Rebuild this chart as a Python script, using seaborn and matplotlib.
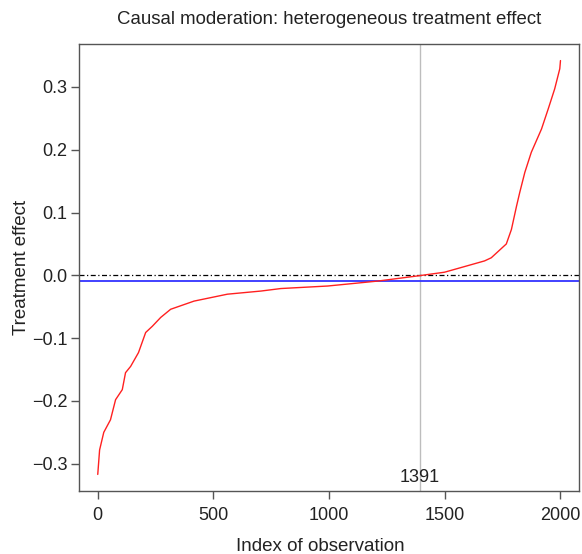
import matplotlib
matplotlib.use("Agg")
import matplotlib.pyplot as plt
import seaborn as sns
import pandas as pd

# Data
obs_index = [1, 9, 27, 56, 78, 107, 121, 143, 177, 208, 237, 273, 316, 417, 561,
             706, 792, 994, 1211, 1391, 1499, 1528, 1672, 1701, 1766, 1788, 1810,
             1824, 1846, 1874, 1918, 1947, 1975, 1997, 2000]
effect = [-0.317, -0.278, -0.250, -0.230, -0.198, -0.182, -0.155, -0.145, -0.123,
          -0.091, -0.081, -0.067, -0.054, -0.041, -0.030, -0.025, -0.021, -0.017,
          -0.0091, -0.0005, 0.005, 0.008, 0.023, 0.028, 0.050, 0.073, 0.110, 0.132,
          0.164, 0.196, 0.233, 0.265, 0.297, 0.329, 0.342]
mean_effect = -0.0096
cross_index = 1391
x_ticks = [0, 500, 1000, 1500, 2000]
y_ticks = [-0.3, -0.2, -0.1, 0.0, 0.1, 0.2, 0.3]

df = pd.DataFrame({"idx": obs_index, "effect": effect})

sns.set_style("ticks")
plt.rcParams["font.family"] = ["Liberation Sans", "DejaVu Sans"]

fig = plt.figure(figsize=(5.82, 5.54), dpi=100)
ax = fig.add_axes([79/582, 1 - 491/554, 500/582, 447/554])

ax.axvline(cross_index, color="#bdbdbd", lw=1.0, zorder=1)
ax.axhline(0, color="black", lw=0.9, ls=(0, (4, 2, 1, 2)), zorder=2)
ax.axhline(mean_effect, color="#3333ff", lw=1.3, zorder=2)
sns.lineplot(data=df, x="idx", y="effect", color="#ff2020", lw=1.0, ax=ax, zorder=3)

ax.set_xlim(-80, 2080)
ax.set_ylim(-0.3434, 0.3684)
ax.set_xticks(x_ticks)
ax.set_yticks(y_ticks)
ax.set_xticklabels([str(t) for t in x_ticks])
ax.set_yticklabels([f"{t:.1f}".replace("-", "\u2212") for t in y_ticks])

for s in ax.spines.values():
    s.set_visible(True)
    s.set_color("#555555")
    s.set_linewidth(1.0)
ax.tick_params(axis="both", direction="out", length=5.5, width=1.0, color="#555555",
               labelsize=13, labelcolor="#222222")
ax.tick_params(axis="x", pad=6)
ax.tick_params(axis="y", pad=3)

ax.text(cross_index, -0.3215, str(cross_index), ha="center", va="center",
        fontsize=13, color="#222222")

ax.set_xlabel("Index of observation", fontsize=13.5, color="#222222", labelpad=10)
ax.xaxis.set_label_coords((320 - 79) / 500, -0.105)
ax.set_ylabel("Treatment effect", fontsize=13.5, color="#222222", labelpad=1)
fig.text(329 / 582, 1 - 19 / 554, "Causal moderation: heterogeneous treatment effect",
         ha="center", va="center", fontsize=13.4, color="#222222")

fig.savefig("out.png", dpi=100)
